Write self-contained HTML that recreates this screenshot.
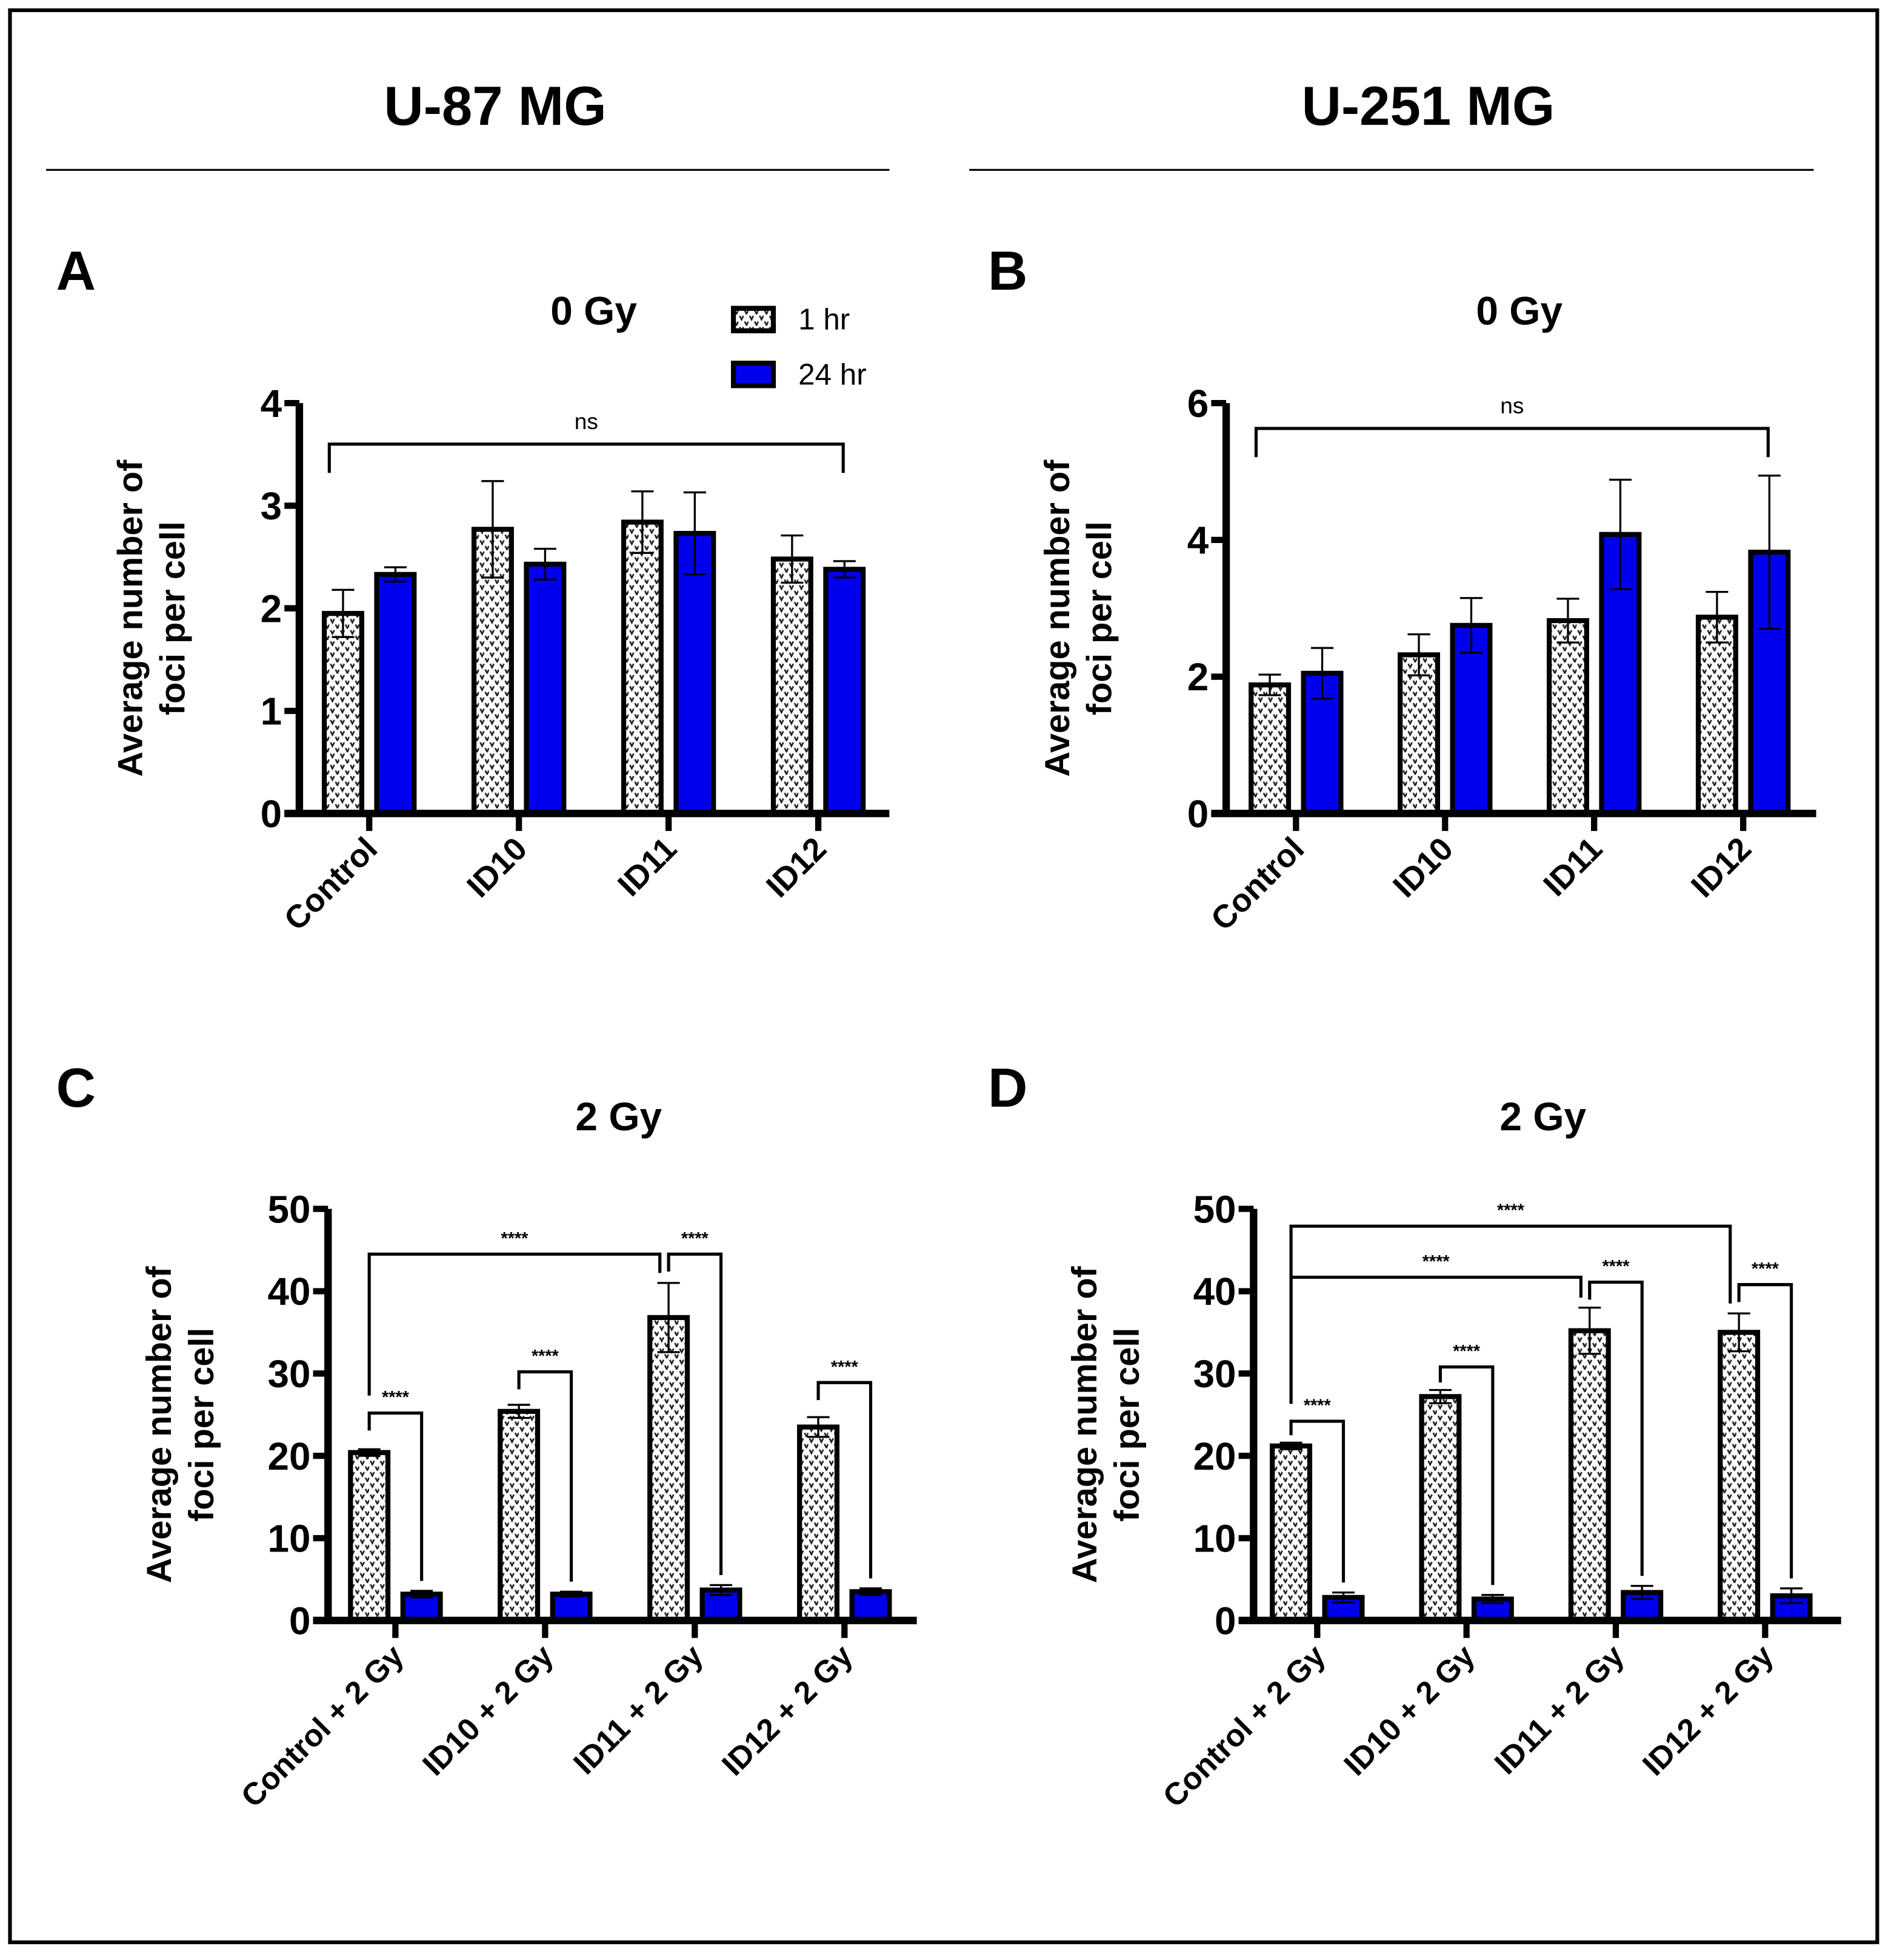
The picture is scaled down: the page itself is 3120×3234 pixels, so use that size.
<!DOCTYPE html>
<html><head><meta charset="utf-8"><style>
html,body{margin:0;padding:0;background:#fff}
svg{display:block}
text{font-family:"Liberation Sans",sans-serif}
</style></head><body>
<svg id="fig" xmlns="http://www.w3.org/2000/svg" width="3120" height="3234" viewBox="0 0 1516 1571">
<defs>
<pattern id="dots" patternUnits="userSpaceOnUse" width="8" height="9">
<rect width="8" height="9" fill="#fff"/>
<path d="M1 1 L2.5 4 L4 1 M5 5.5 L6.5 8.5 L8 5.5" stroke="#222" stroke-width="1.3" fill="none"/>
</pattern>
</defs>
<rect x="8" y="8" width="1497" height="1549" fill="none" stroke="#000" stroke-width="3"/>
<text x="397" y="100" font-size="44" font-weight="bold" text-anchor="middle">U-87 MG</text>
<text x="1145" y="100" font-size="44" font-weight="bold" text-anchor="middle">U-251 MG</text>
<line x1="37" y1="136" x2="713" y2="136" stroke="#000" stroke-width="1.5"/>
<line x1="777" y1="136" x2="1454" y2="136" stroke="#000" stroke-width="1.5"/>
<g>
<rect x="588" y="247" width="32" height="18" fill="url(#dots)" stroke="#000" stroke-width="4"/>
<text x="640" y="264" font-size="24">1 hr</text>
<rect x="588" y="291" width="32" height="18" fill="#0000ee" stroke="#000" stroke-width="4"/>
<text x="640" y="308" font-size="24">24 hr</text>
</g>
</svg>
<script>
const catsTop = ["Control","ID10","ID11","ID12"];
const catsBottom = ["Control + 2 Gy","ID10 + 2 Gy","ID11 + 2 Gy","ID12 + 2 Gy"];
const aOneHr = [1.95,2.77,2.84,2.48];
const aOneHrErr = [0.23,0.47,0.30,0.23];
const aDayHr = [2.33,2.43,2.73,2.38];
const aDayHrErr = [0.07,0.15,0.40,0.08];
const bOneHr = [1.88,2.32,2.82,2.87];
const bOneHrErr = [0.15,0.30,0.32,0.37];
const bDayHr = [2.05,2.75,4.08,3.82];
const bDayHrErr = [0.37,0.40,0.80,1.12];
const cOneHr = [20.4,25.4,36.8,23.5];
const cOneHrErr = [0.4,0.8,4.2,1.2];
const cDayHr = [3.2,3.2,3.7,3.5];
const cDayHrErr = [0.4,0.3,0.6,0.4];
const dOneHr = [21.2,27.2,35.2,35.0];
const dOneHrErr = [0.4,0.8,2.8,2.3];
const dDayHr = [2.8,2.6,3.4,3.0];
const dDayHrErr = [0.6,0.5,0.8,0.9];
const ticksA = [0,1,2,3,4];
const ticksB = [0,2,4,6];
const ticksCD = [0,10,20,30,40,50];
const pairLevelsC = [25.2,30.2,44.5,28.9];
const pairLevelsD = [24.2,30.8,41.1,40.8];
const longBracketsC = [[0,2,44.5]];
const longBracketsD = [[0,3,47.9],[0,2,41.7]];

const NS="http://www.w3.org/2000/svg";
const svg=document.getElementById('fig');
function mk(tag,attrs,parent){const e=document.createElementNS(NS,tag);for(const k in attrs)e.setAttribute(k,attrs[k]);(parent||svg).appendChild(e);return e;}

function panel(cfg){
  const g=mk('g',{});
  
  
  const y=v=>cfg.y0-(v/cfg.ymax)*(cfg.y0-cfg.yTop);
  const xc=i=>cfg.x1+i*cfg.step;
  let t=mk('text',{x:cfg.letterX,y:cfg.letterY,'font-size':44,'font-weight':'bold'},g);t.textContent=cfg.id.toUpperCase();
  
  
  t=mk('text',{x:cfg.titleX,y:cfg.titleY,'font-size':32,'font-weight':'bold','text-anchor':'middle'},g);t.textContent=cfg.title;
  
  
  const yl=mk('text',{transform:`translate(${cfg.ax-108},${(cfg.y0+cfg.yTop)/2+8}) rotate(-90)`,'font-size':28,'font-weight':'bold','text-anchor':'middle'},g);
  
  
  const s1=mk('tspan',{x:0,dy:-18},yl);s1.textContent='Average number of';
  const s2=mk('tspan',{x:0,dy:34},yl);s2.textContent='foci per cell';
  cfg.cats.forEach((c,i)=>{
    const cx=xc(i);
    [[cfg.one,cfg.oneErr,-21,'url(#dots)','bar-1hr'],[cfg.day,cfg.dayErr,21,'#0000ee','bar-24hr']].forEach(([vals,errs,off,fill,nm])=>{
      const bx=cx+off, top=y(vals[i]);
      const r=mk('rect',{x:bx-15,y:top,width:30,height:cfg.y0-top,fill:fill,stroke:'#000','stroke-width':4},g);
      
      
      const e1=y(vals[i]+errs[i]), e2=y(vals[i]-errs[i]);
      const eb=mk('path',{d:`M${bx} ${e1}V${e2}M${bx-9} ${e1}H${bx+9}M${bx-9} ${e2}H${bx+9}`,stroke:'#000','stroke-width':1.6,fill:'none'},g);
      
      
    });
    mk('line',{x1:cx,y1:cfg.y0,x2:cx,y2:cfg.y0+14,stroke:'#000','stroke-width':5},g);
    const lx=cx+8, ly=cfg.y0+30;
    const tl=mk('text',{transform:`translate(${lx},${ly}) rotate(-45)`,'font-size':cfg.xfs,'font-weight':'bold','text-anchor':'end'},g);
    tl.textContent=c;
    
    
  });
  const ax=mk('path',{d:`M${cfg.ax} ${cfg.yTop}V${cfg.y0}M${cfg.ax-12} ${cfg.y0}H${cfg.axEnd}`,stroke:'#000','stroke-width':6,fill:'none'},g);
  
  
  cfg.ticks.forEach(v=>{
    mk('line',{x1:cfg.ax-12,y1:y(v),x2:cfg.ax,y2:y(v),stroke:'#000','stroke-width':5},g);
    const tt=mk('text',{x:cfg.ax-14,y:y(v)+11,'font-size':31,'font-weight':'bold','text-anchor':'end'},g);
    tt.textContent=v;
    
    
  });
  if(cfg.ns){
    const [i0,i1,lv]=cfg.ns;const xa=xc(i0)-32,xb=xc(i1)+20;
    const p=mk('path',{d:`M${xa} ${y(lv)+23}V${y(lv)}H${xb}V${y(lv)+23}`,stroke:'#000','stroke-width':2.5,fill:'none'},g);
    
    
    const nt=mk('text',{x:(xa+xb)/2,y:y(lv)-12,'font-size':18,'text-anchor':'middle'},g);nt.textContent='ns';
    
    
  }
  if(cfg.pairs){
    cfg.pairs.forEach((lv,i)=>{
      const xa=xc(i)-21,xb=xc(i)+21,by=y(lv);
      const l1=Math.min(y(cfg.one[i]+cfg.oneErr[i])-6,by+14);
      const l2=y(cfg.day[i]+cfg.dayErr[i])-8;
      const p=mk('path',{d:`M${xa} ${l1}V${by}H${xb}V${l2}`,stroke:'#000','stroke-width':2.5,fill:'none'},g);
      
      
      const st=mk('text',{x:xc(i),y:by-8,'font-size':14,'font-weight':'bold','text-anchor':'middle'},g);st.textContent='****';
      
      
    });
    cfg.longs.forEach(([i0,i1,lv])=>{
      const xa=xc(i0)-21,xb=xc(i1)-28,by=y(lv);
      const l1=y(cfg.pairs[i0])-14;
      const l2=y(cfg.one[i1]+cfg.oneErr[i1])-8;
      const p=mk('path',{d:`M${xa} ${l1}V${by}H${xb}V${l2}`,stroke:'#000','stroke-width':2.5,fill:'none'},g);
      
      
      const st=mk('text',{x:(xa+xb)/2,y:by-8,'font-size':14,'font-weight':'bold','text-anchor':'middle'},g);st.textContent='****';
      
      
    });
  }
}
panel({id:'a',letterX:45,letterY:232,title:'0 Gy',titleX:476,titleY:260,ax:240,axEnd:713,y0:652,yTop:323,ymax:4,ticks:ticksA,x1:296,step:120,cats:catsTop,xfs:26,one:aOneHr,oneErr:aOneHrErr,day:aDayHr,dayErr:aDayHrErr,ns:[0,3,3.6]});
panel({id:'b',letterX:792,letterY:232,title:'0 Gy',titleX:1218,titleY:260,ax:983,axEnd:1456,y0:652,yTop:323,ymax:6,ticks:ticksB,x1:1039,step:119.5,cats:catsTop,xfs:26,one:bOneHr,oneErr:bOneHrErr,day:bDayHr,dayErr:bDayHrErr,ns:[0,3,5.63]});
panel({id:'c',letterX:45,letterY:887,title:'2 Gy',titleX:496,titleY:906,ax:263,axEnd:735,y0:1299,yTop:969,ymax:50,ticks:ticksCD,x1:317,step:120,cats:catsBottom,xfs:25,one:cOneHr,oneErr:cOneHrErr,day:cDayHr,dayErr:cDayHrErr,pairs:pairLevelsC,longs:longBracketsC});
panel({id:'d',letterX:792,letterY:887,title:'2 Gy',titleX:1237,titleY:906,ax:1005,axEnd:1476,y0:1299,yTop:969,ymax:50,ticks:ticksCD,x1:1056,step:119.7,cats:catsBottom,xfs:25,one:dOneHr,oneErr:dOneHrErr,day:dDayHr,dayErr:dDayHrErr,pairs:pairLevelsD,longs:longBracketsD});
</script>
</body></html>
